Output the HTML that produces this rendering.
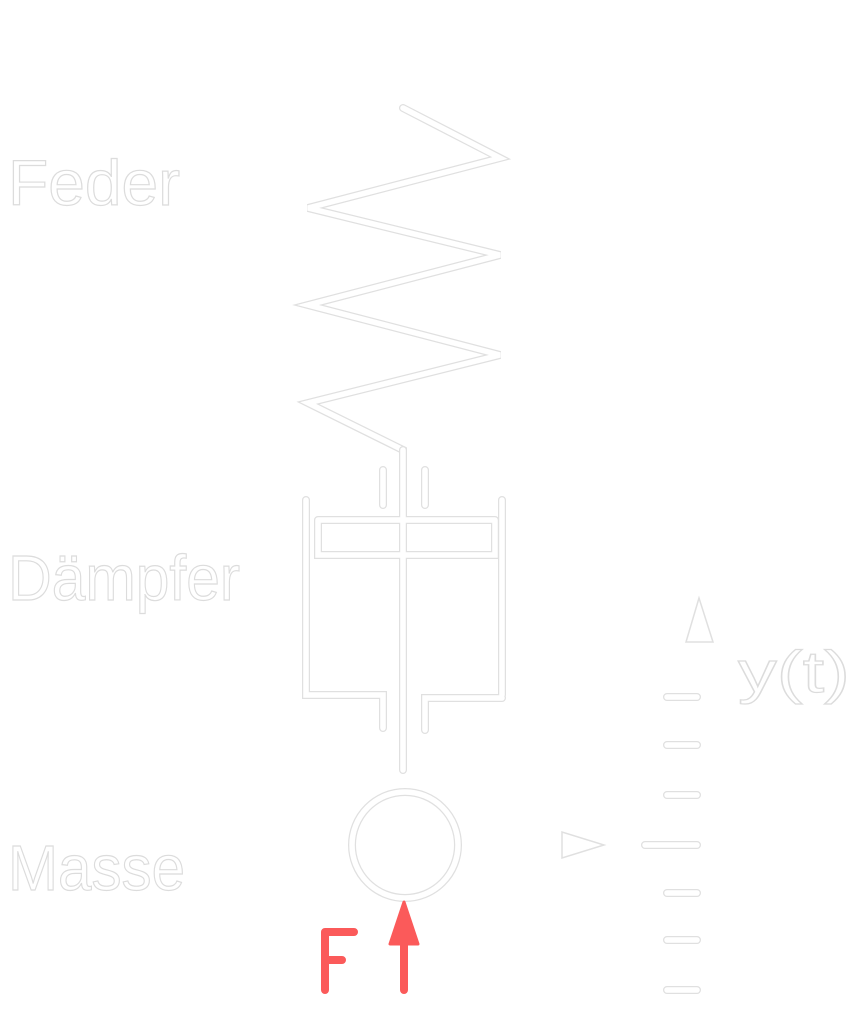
<!DOCTYPE html>
<html><head><meta charset="utf-8">
<style>
html,body{margin:0;padding:0;background:#fff;width:855px;height:1020px;overflow:hidden}
svg{display:block}
.o{fill:none;stroke:#e0e0e0;stroke-width:8;stroke-linecap:round;stroke-linejoin:miter}
.i{fill:none;stroke:#fff;stroke-width:5.5;stroke-linecap:round;stroke-linejoin:miter}
.lbl{font-family:"Liberation Sans",sans-serif;fill:#fff;stroke:#dcdcdc;stroke-width:1.2}
</style></head><body>
<svg width="855" height="1020" viewBox="0 0 855 1020">
<g>
<text class="lbl" x="8" y="205" font-size="64" textLength="172" lengthAdjust="spacingAndGlyphs">Feder</text>
<text class="lbl" x="8" y="600" font-size="64" textLength="232" lengthAdjust="spacingAndGlyphs">Dämpfer</text>
<text class="lbl" x="8" y="890" font-size="64" textLength="177" lengthAdjust="spacingAndGlyphs">Masse</text>
<text class="lbl" x="738" y="692" font-size="58" textLength="112" lengthAdjust="spacingAndGlyphs">y(t)</text>
</g>
<g>
<polyline class="o" points="403,108 500,158 308,208 500,255 308,305 500,355 308,403 403,450 403,520"/>
<polyline class="i" points="403,108 500,158 308,208 500,255 308,305 500,355 308,403 403,450 403,520"/>
</g>
<g>
<path class="o" d="M306,500 V695 H383 V728 M425,700 V728 M425,730 V698 H502 M502,500 V695 M383,470 V505 M425,470 V505 M318,520 H495 M318,520 V555 H495 V520 M403,450 V770"/>
<path class="i" d="M306,500 V695 H383 V728 M425,700 V728 M425,730 V698 H502 M502,500 V695 M383,470 V505 M425,470 V505 M318,520 H495 M318,520 V555 H495 V520 M403,450 V770"/>
</g>
<g>
<circle cx="405" cy="845" r="53" class="o"/>
<circle cx="405" cy="845" r="53" class="i"/>
</g>
<g>
<path class="o" d="M667,697 H697 M667,745 H697 M667,795 H697 M645,845 H697 M667,893 H697 M667,940 H697 M667,990 H697"/>
<path class="i" d="M667,697 H697 M667,745 H697 M667,795 H697 M645,845 H697 M667,893 H697 M667,940 H697 M667,990 H697"/>
<polygon points="699,598 686,642 713,642" fill="#fff" stroke="#e0e0e0" stroke-width="1.5"/>
<polygon points="562,832 562,858 604,845" fill="#fff" stroke="#e0e0e0" stroke-width="1.5"/>
</g>
<g>
<path d="M325,990 V932 H354 M325,960 H342" fill="none" stroke="#fb5a5a" stroke-width="8" stroke-linecap="round" stroke-linejoin="round"/>
<line x1="404" y1="935" x2="404" y2="990" stroke="#fb5a5a" stroke-width="8" stroke-linecap="round"/>
<polygon points="404,902 390,944 418,944" fill="#fb5a5a" stroke="#fb5a5a" stroke-width="3" stroke-linejoin="round"/>
</g>
</svg>
</body></html>
